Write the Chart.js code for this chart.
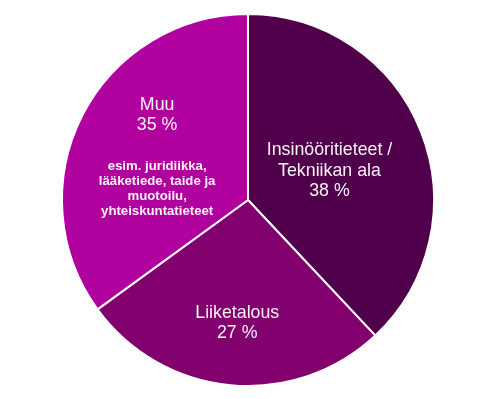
<!DOCTYPE html>
<html>
<head>
<meta charset="utf-8">
<script src="https://cdn.jsdelivr.net/npm/chart.js@4/dist/chart.umd.min.js"></script>
<style>
  html, body { margin: 0; padding: 0; background: #fff; }
  #wrap { width: 498px; height: 399px; position: relative; }
</style>
</head>
<body>
<div id="wrap"><canvas id="pie"></canvas></div>
<script>
// data
const categories = ['Insinööritieteet / Tekniikan ala', 'Liiketalous', 'Muu'];
const shares = [38, 27, 35];
const sliceColors = ['#50004a', '#82006e', '#b0009e'];
const muuNote = ['esim. juridiikka,', 'lääketiede, taide ja', 'muotoilu,', 'yhteiskuntatieteet'];

const FONT = '"Liberation Sans", Arial, sans-serif';
const big = '17.8px ' + FONT;
const small = 'bold 13.2px ' + FONT;

// text blocks placed relative to each slice's centre point
const labelBlocks = [
    { dx: -5, dy: 2, lines: [
        { text: 'Insinööritieteet /', font: big, y: -18 },
        { text: 'Tekniikan ala', font: big, y: 3 },
        { text: shares[0] + ' %', font: big, y: 23 }
    ] },
    { dx: -2, dy: 31, lines: [
        { text: categories[1], font: big, y: -10 },
        { text: shares[1] + ' %', font: big, y: 10 }
    ] },
    { dx: -8, dy: 2, lines: [
        { text: categories[2], font: big, y: -55 },
        { text: shares[2] + ' %', font: big, y: -35 }
    ].concat(muuNote.map((t, k) => ({ text: t, font: small, y: 7 + k * 15 }))) }
];

const sliceLabels = {
    id: 'sliceLabels',
    afterDatasetsDraw(chart) {
        const ctx = chart.ctx;
        const arcs = chart.getDatasetMeta(0).data;
        ctx.save();
        ctx.fillStyle = '#f7f2f7';
        ctx.textAlign = 'center';
        ctx.textBaseline = 'middle';
        arcs.forEach((arc, i) => {
            const p = arc.tooltipPosition();
            const b = labelBlocks[i];
            b.lines.forEach(l => {
                ctx.font = l.font;
                ctx.fillText(l.text, p.x + b.dx, p.y + b.dy + l.y);
            });
        });
        ctx.restore();
    }
};

new Chart(document.getElementById('pie'), {
    type: 'pie',
    data: {
        labels: categories,
        datasets: [{
            data: shares,
            backgroundColor: sliceColors,
            borderColor: '#ffffff',
            borderWidth: 2
        }]
    },
    options: {
        responsive: true,
        maintainAspectRatio: false,
        animation: false,
        layout: { padding: { top: 13, bottom: 12, left: 0, right: 2 } },
        plugins: {
            legend: { display: false },
            tooltip: { enabled: false }
        }
    },
    plugins: [sliceLabels]
});
</script>
</body>
</html>
